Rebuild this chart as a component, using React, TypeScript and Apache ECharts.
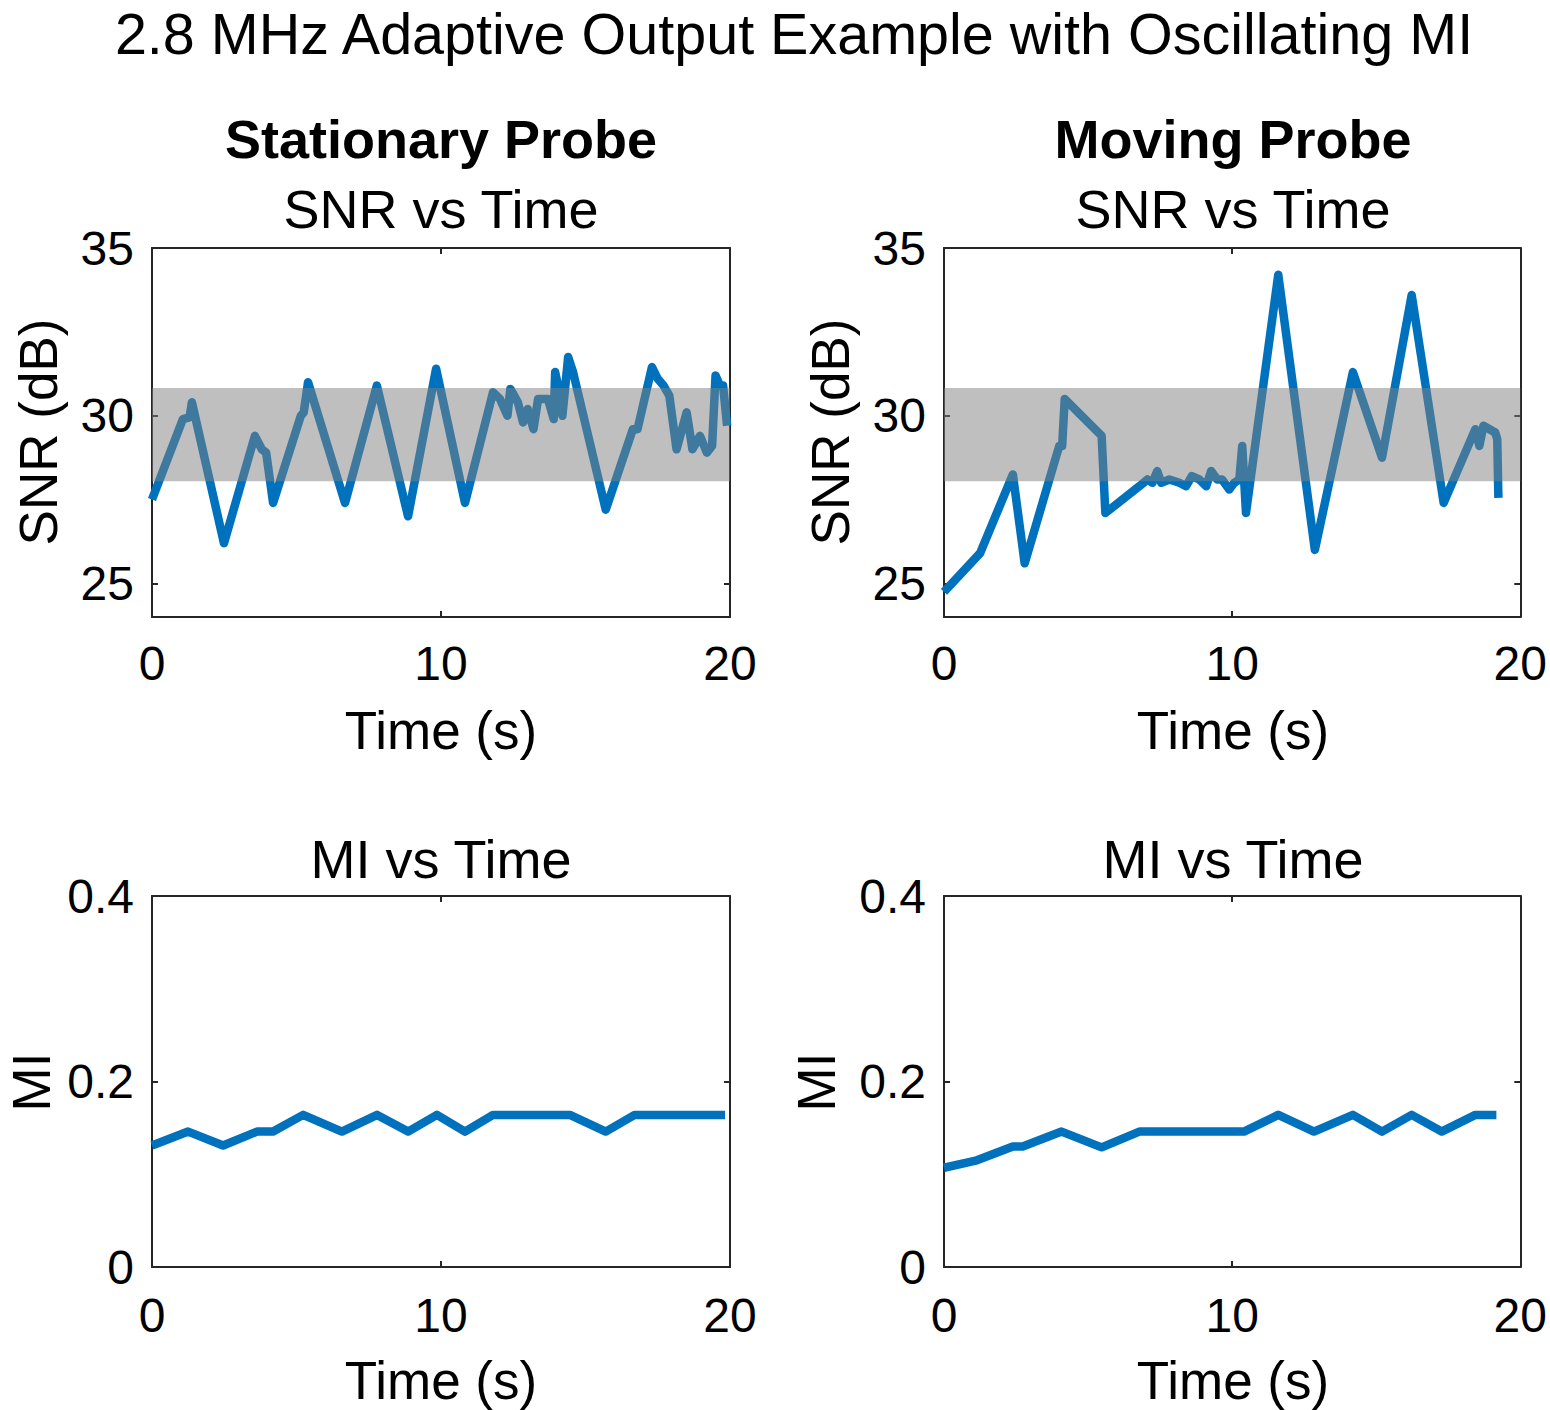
import React, { useEffect, useRef } from "react";
import * as echarts from "echarts";

// ---------- data ----------
const stationaryTime = [0, 1.07, 1.3, 1.38, 2.49, 3.56, 3.8, 3.95, 4.19, 5.15, 5.25, 5.4, 6.68, 7.78, 8.86, 9.83, 10.83, 11.8, 12.04, 12.3, 12.4, 12.66, 12.84, 13.0, 13.2, 13.36, 13.7, 13.9, 13.95, 14.05, 14.2, 14.4, 14.57, 15.7, 16.64, 16.8, 17.3, 17.5, 17.7, 17.9, 18.15, 18.5, 18.7, 18.96, 19.2, 19.38, 19.5, 19.65, 19.76, 19.9];
const stationarySnr = [27.5, 29.9, 29.95, 30.4, 26.2, 29.4, 29.0, 28.9, 27.4, 30.0, 30.1, 31.0, 27.4, 30.9, 27.0, 31.4, 27.4, 30.7, 30.5, 30.0, 30.8, 30.4, 29.8, 30.2, 29.6, 30.5, 30.5, 29.9, 31.3, 30.9, 30.0, 31.75, 31.3, 27.2, 29.6, 29.6, 31.45, 31.1, 30.9, 30.6, 29.0, 30.1, 29.0, 29.4, 28.9, 29.1, 31.2, 30.9, 30.9, 29.7];

const movingTime = [0, 1.25, 2.39, 2.8, 4.0, 4.1, 4.19, 5.47, 5.6, 6.78, 7.06, 7.23, 7.4, 7.54, 7.82, 8.17, 8.4, 8.6, 8.86, 9.1, 9.27, 9.48, 9.65, 9.9, 10.07, 10.25, 10.35, 10.48, 11.6, 12.87, 14.19, 15.2, 16.23, 17.34, 18.44, 18.58, 18.72, 19.13, 19.2, 19.24];
const movingSnr = [24.75, 25.9, 28.25, 25.6, 29.1, 29.1, 30.5, 29.4, 27.1, 27.9, 28.1, 28.0, 28.35, 28.0, 28.1, 28.0, 27.9, 28.2, 28.1, 27.9, 28.35, 28.1, 28.1, 27.8, 28.0, 28.1, 29.1, 27.1, 34.2, 26.0, 31.3, 28.75, 33.6, 27.4, 29.6, 29.1, 29.7, 29.5, 29.3, 27.55];

const stationaryMiTime = [0, 1.25, 2.46, 3.63, 4.19, 5.23, 6.57, 7.79, 8.86, 9.86, 10.83, 11.8, 14.46, 15.7, 16.7, 19.83];
const stationaryMi = [0.131, 0.146, 0.131, 0.146, 0.146, 0.164, 0.146, 0.164, 0.146, 0.164, 0.146, 0.164, 0.164, 0.146, 0.164, 0.164];

const movingMiTime = [0, 1.14, 2.39, 2.73, 4.08, 5.47, 6.78, 10.41, 11.6, 12.84, 14.19, 15.2, 16.23, 17.27, 18.44, 19.17];
const movingMi = [0.107, 0.115, 0.13, 0.13, 0.146, 0.129, 0.146, 0.146, 0.164, 0.146, 0.164, 0.146, 0.164, 0.146, 0.164, 0.164];

const snrBand = [28.05, 30.83];
const snrTicks = [25, 30, 35];
const snrRange = [24, 35];
const miRange = [0, 0.4];
const timeRange = [0, 20];

const mainTitle = "2.8 MHz Adaptive Output Example with Oscillating MI";
const columnTitles = ["Stationary Probe", "Moving Probe"];

// ---------- layout ----------
const FONT = '"Liberation Sans", Arial, Helvetica, sans-serif';
const AXIS_COLOR = "#262626";
const LINE_COLOR = "#0072BD";
const colLeft = [152, 944];
const plotW = 578;
const rowTop = [248, 896];
const rowH = [369, 371];

const pairs = (xs: number[], ys: number[]) => xs.map((x, i) => [x, ys[i]]);

function buildOption() {
  const grids: any[] = [];
  const xAxes: any[] = [];
  const yAxes: any[] = [];
  const series: any[] = [];

  const lineData = [
    pairs(stationaryTime, stationarySnr),
    pairs(movingTime, movingSnr),
    pairs(stationaryMiTime, stationaryMi),
    pairs(movingMiTime, movingMi),
  ];

  for (let g = 0; g < 4; g++) {
    const row = g < 2 ? 0 : 1;
    const col = g % 2;
    grids.push({
      left: colLeft[col],
      top: rowTop[row],
      width: plotW,
      height: rowH[row],
      containLabel: false,
    });
    const axisLine = { show: true, onZero: false, lineStyle: { color: AXIS_COLOR, width: 2 } };
    const axisTick = { show: true, inside: true, length: 6, lineStyle: { color: AXIS_COLOR, width: 2 } };
    xAxes.push({
      type: "value",
      gridIndex: g,
      position: "bottom",
      min: timeRange[0],
      max: timeRange[1],
      interval: 10,
      axisLine,
      axisTick,
      splitLine: { show: false },
      axisLabel: { fontSize: 48, color: "#000", fontFamily: FONT, margin: row === 0 ? 22 : 24 },
    });
    xAxes.push({
      type: "value",
      gridIndex: g,
      position: "top",
      min: timeRange[0],
      max: timeRange[1],
      interval: 10,
      axisLine,
      axisTick,
      splitLine: { show: false },
      axisLabel: { show: false },
    });
    if (row === 0) {
      yAxes.push({
        type: "value",
        gridIndex: g,
        position: "left",
        min: snrRange[0],
        max: snrRange[1],
        axisLine,
        axisTick: { ...axisTick, customValues: snrTicks },
        splitLine: { show: false },
        axisLabel: { fontSize: 48, color: "#000", fontFamily: FONT, margin: 18, customValues: snrTicks },
      });
      yAxes.push({
        type: "value",
        gridIndex: g,
        position: "right",
        min: snrRange[0],
        max: snrRange[1],
        axisLine,
        axisTick: { ...axisTick, customValues: snrTicks },
        splitLine: { show: false },
        axisLabel: { show: false },
      });
    } else {
      yAxes.push({
        type: "value",
        gridIndex: g,
        position: "left",
        min: miRange[0],
        max: miRange[1],
        interval: 0.2,
        axisLine,
        axisTick,
        splitLine: { show: false },
        axisLabel: { fontSize: 48, color: "#000", fontFamily: FONT, margin: 18 },
      });
      yAxes.push({
        type: "value",
        gridIndex: g,
        position: "right",
        min: miRange[0],
        max: miRange[1],
        interval: 0.2,
        axisLine,
        axisTick,
        splitLine: { show: false },
        axisLabel: { show: false },
      });
    }

    series.push({
      type: "line",
      xAxisIndex: 2 * g,
      yAxisIndex: 2 * g,
      data: lineData[g],
      showSymbol: false,
      symbol: "none",
      z: 2,
      lineStyle: { color: LINE_COLOR, width: 8.5, join: "round" },
      silent: true,
    });

    if (row === 0) {
      series.push({
        type: "line",
        xAxisIndex: 2 * g,
        yAxisIndex: 2 * g,
        data: [],
        z: 10,
        silent: true,
        markArea: {
          silent: true,
          z: 10,
          itemStyle: { color: "rgba(128,128,128,0.5)", borderWidth: 0 },
          data: [[{ yAxis: snrBand[0] }, { yAxis: snrBand[1] }]],
        },
      });
    }
  }

  const text = (t: string, x: number, y: number, size: number, bold = false, rotation = 0) => ({
    type: "text",
    x,
    y,
    rotation,
    silent: true,
    style: {
      text: t,
      fill: "#000",
      font: `${bold ? "bold " : ""}${size}px ${FONT}`,
      align: "center",
      verticalAlign: "middle",
      textAlign: "center",
      textVerticalAlign: "middle",
    },
  });

  const colCenter = colLeft.map((l) => l + plotW / 2);
  const graphic: any[] = [text(mainTitle, 794, 34, 57.5)];
  colCenter.forEach((cx, i) => {
    graphic.push(text(columnTitles[i], cx, 139, 54, true));
    graphic.push(text("SNR vs Time", cx, 209, 54));
    graphic.push(text("MI vs Time", cx, 859, 54));
    graphic.push(text("Time (s)", cx, 730, 53));
    graphic.push(text("Time (s)", cx, 1380, 53));
  });
  graphic.push(text("SNR (dB)", 38, 432, 53, false, Math.PI / 2));
  graphic.push(text("SNR (dB)", 830, 432, 53, false, Math.PI / 2));
  graphic.push(text("MI", 31, 1082, 53, false, Math.PI / 2));
  graphic.push(text("MI", 816, 1082, 53, false, Math.PI / 2));

  return {
    animation: false,
    backgroundColor: "#ffffff",
    textStyle: { fontFamily: FONT },
    grid: grids,
    xAxis: xAxes,
    yAxis: yAxes,
    series,
    graphic,
  };
}

export default function App() {
  const ref = useRef<HTMLDivElement>(null);
  useEffect(() => {
    document.body.style.margin = "0";
    if (!ref.current) return;
    const chart = echarts.init(ref.current, undefined, { renderer: "svg" });
    chart.setOption(buildOption() as any);
    return () => chart.dispose();
  }, []);
  return (
    <div
      ref={ref}
      style={{ position: "absolute", left: 0, top: 0, width: 1550, height: 1410, background: "#fff" }}
    />
  );
}
